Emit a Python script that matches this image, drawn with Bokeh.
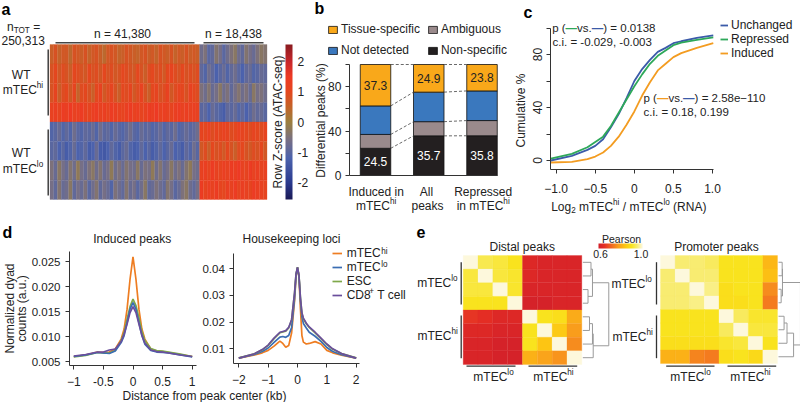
import numpy as np
from bokeh.plotting import figure
from bokeh.embed import file_html
from bokeh.resources import INLINE
from bokeh.models import (ColumnDataSource, Range1d, LinearColorMapper, ColorBar, FixedTicker, Label,
                          Legend, LegendItem, LinearAxis)
from bokeh.transform import transform
from bokeh.core.properties import value

FONT = "Liberation Sans"
DARK = "#222222"
W, H = 800, 402

# ---------- panel a: Row Z-score (tenths), 8 samples x 58 peak columns
z_hi_1 = [6,8,5,7,7,4,8,7,6,8,5,7,8,6,4,7,8,7,5,6,8,7,6,5,7,8,6,7,5,8,7,6,8,5,7,6,8,6,7,6,-7,-5,-10,-9,-4,-6,-10,-7,-5,-3,-7,-9,-4,-6,-8,-5,-3,-4]
z_hi_2 = [8,10,7,9,8,6,10,9,8,7,10,8,9,7,10,8,9,7,8,10,9,8,7,10,8,6,9,10,8,9,7,10,11,9,8,10,8,9,8,9,-9,-11,-7,-9,-12,-10,-8,-11,-9,-7,-10,-12,-9,-8,-11,-10,-8,-9]
z_hi_3 = [8,11,6,9,10,7,11,5,9,10,8,6,10,12,7,9,11,8,6,10,9,11,7,9,12,8,6,10,11,8,9,12,7,9,11,10,8,12,10,9,-5,-7,-4,-8,-6,-3,-7,-5,-9,-6,-4,-7,-5,-8,-3,-6,-5,-7]
z_hi_4 = [12,13,11,14,13,15,12,13,14,12,11,13,14,12,13,11,14,13,12,11,13,14,12,13,11,12,14,13,15,12,13,12,11,13,14,12,13,12,13,12,-10,-9,-12,-8,-10,-11,-13,-9,-10,-8,-11,-9,-12,-10,-7,-9,-8,-10]
z_lo_1 = [-11,-10,-8,-11,-9,-11,-7,-10,-11,-9,-10,-8,-11,-7,-10,-9,-11,-8,-10,-11,-9,-7,-10,-11,-8,-10,-9,-11,-10,-8,-11,-9,-10,-7,-11,-10,-8,-10,-9,-7,11,10,12,9,11,10,12,11,9,10,12,11,10,9,11,10,9,11]
z_lo_2 = [-10,-9,-12,-10,-13,-11,-8,-12,-11,-9,-13,-12,-8,-13,-14,-12,-9,-11,-13,-10,-8,-11,-13,-12,-9,-12,-10,-13,-11,-9,-12,-10,-8,-12,-11,-13,-9,-11,-7,-10,7,9,6,10,8,9,7,10,8,6,9,10,8,7,9,8,10,7]
z_lo_3 = [-5,-8,-3,-6,-8,-4,-7,-2,-6,-8,-5,-3,-7,-4,-8,-6,-2,-7,-5,-8,-4,-6,-7,-3,-8,-5,-6,-2,-7,-4,-8,-6,-3,-7,-5,-8,-4,-2,-6,-7,12,13,11,14,12,11,13,12,14,13,15,12,11,14,12,13,11,12]
z_lo_4 = [-6,-9,-4,-8,-7,-3,-9,-6,-8,-5,-10,-7,-4,-9,-6,-8,-11,-5,-7,-9,-4,-8,-6,-10,-7,-3,-9,-8,-5,-7,-9,-4,-6,-10,-8,-5,-3,-7,-9,-6,14,11,13,12,14,11,10,13,12,14,11,13,12,11,14,13,12,11]
z_rows = [z_hi_1, z_hi_2, z_hi_3, z_hi_4, z_lo_1, z_lo_2, z_lo_3, z_lo_4]

# ---------- panel b
b_nonspecific = [24.5, 35.7, 35.8]
b_ambiguous = [12.5, 12.8, 13.7]
b_notdetected = [25.7, 26.6, 26.7]
b_tissue = [37.3, 24.9, 23.8]

# ---------- panel c
c_x = [-1.07,-.8,-.6,-.5,-.4,-.3,-.2,-.1,0,.1,.2,.3,.4,.5,.6,.8,1.01]
c_unchanged = [0,3.5,8,11,16,25,35,47,60,69,76,82,85,88.5,90,92.5,94.5]
c_repressed = [1.5,5,10,14,18,26,36,46,56,65,73,79,83,87,89,91,93]
c_induced = [-1.5,-1,1,3,6,11,18,27,37,49,59,68,73,78,81,85,88.5]

# ---------- panel d
d1_x = [-1,-.8,-.6,-.5,-.4,-.3,-.2,-.15,-.1,-.05,0,.05,.1,.15,.2,.3,.4,.5,.6,.8,1]
d1_hi = [.0060,.0063,.0069,.0068,.0069,.0075,.0095,.0115,.0155,.0215,.0260,.0215,.0155,.0115,.0095,.0075,.0071,.0070,.0068,.0064,.0060]
d1_esc = [.0059,.0062,.0068,.0067,.0067,.0072,.0092,.0108,.0135,.0160,.0175,.0162,.0138,.0110,.0092,.0076,.0072,.0071,.0069,.0065,.0060]
d1_lo = [.0060,.0063,.0068,.0067,.0066,.0071,.0088,.0102,.0128,.0155,.0168,.0155,.0128,.0102,.0085,.0072,.0069,.0068,.0067,.0063,.0059]
d1_cd8 = [.0061,.0064,.0069,.0069,.0073,.0075,.0090,.0105,.0125,.0148,.0160,.0148,.0125,.0103,.0087,.0073,.0070,.0069,.0067,.0063,.0060]
d2_x = [-2,-1.5,-1.2,-1,-.8,-.6,-.5,-.4,-.3,-.2,-.1,-.05,0,.05,.1,.15,.2,.3,.4,.6,.8,1,1.2,1.5,2]
d2_hi = [.0065,.0076,.0085,.0094,.0110,.0129,.0120,.0106,.0112,.0160,.0280,.0370,.0405,.0370,.0250,.0150,.0125,.0118,.0120,.0127,.0118,.0094,.0085,.0076,.0065]
d2_lo = [.0065,.0078,.0090,.0103,.0124,.0144,.0146,.0143,.0150,.0180,.0290,.0375,.0405,.0370,.0280,.0220,.0195,.0178,.0162,.0147,.0128,.0105,.0090,.0078,.0065]
d2_esc = [.0066,.0080,.0096,.0113,.0138,.0160,.0163,.0166,.0178,.0208,.0310,.0380,.0405,.0375,.0290,.0232,.0212,.0194,.0180,.0160,.0138,.0116,.0098,.0082,.0066]
d2_cd8 = [.0065,.0080,.0097,.0114,.0140,.0162,.0165,.0168,.0180,.0210,.0310,.0380,.0405,.0375,.0290,.0235,.0215,.0196,.0182,.0162,.0140,.0118,.0100,.0082,.0065]

# ---------- panel e (Pearson r)
distal = [[1.0,.93,.92,.90,.63,.62,.62,.62],
          [.92,1.0,.92,.91,.63,.62,.62,.62],
          [.92,.92,1.0,.91,.62,.62,.62,.62],
          [.90,.90,.90,1.0,.61,.61,.62,.62],
          [.66,.65,.63,.63,1.0,.90,.89,.80],
          [.63,.63,.62,.62,.90,1.0,.85,.78],
          [.62,.62,.61,.61,.90,.84,1.0,.76],
          [.62,.62,.61,.61,.81,.79,.77,1.0]]
promoter = [[1.0,.95,.95,.94,.90,.90,.90,.82],
            [.95,1.0,.95,.95,.90,.90,.90,.83],
            [.95,.95,1.0,.96,.89,.90,.90,.76],
            [.95,.95,.96,1.0,.89,.89,.90,.74],
            [.90,.90,.90,.90,1.0,.94,.91,.91],
            [.90,.90,.90,.90,.94,1.0,.92,.92],
            [.89,.89,.89,.89,.91,.92,1.0,.90],
            [.81,.81,.75,.74,.89,.90,.88,1.0]]
# dendrogram merges: (child, child, height) nested
distal_tree = (((0,1,.55),(2,3,.35),.65),(((4,5,.45),6,.65),7,.70),1.75)
promoter_tree = (((0,1,.25),(2,3,.18),.27),(((4,5,.38),6,.58),7,1.03),1.50)

# ---------- page-wide figure: the default ranges are the page's pixels, each panel has its own scale pair
p = figure(width=W, height=H, x_range=Range1d(0, W), y_range=Range1d(H, 0), output_backend="svg", toolbar_location=None,
           x_axis_type=None, y_axis_type=None, min_border=0, min_border_left=0, min_border_right=0, min_border_top=0,
           min_border_bottom=0)
p.outline_line_color = None
p.background_fill_color = None
p.border_fill_color = None

def scale(name, xa, pxa, xb, pxb, ya, pya, yb, pyb):
    """register ranges so that data xa sits at page pixel pxa and so on"""
    kx = (xb-xa)/(pxb-pxa)
    ky = (yb-ya)/(pyb-pya)
    p.extra_x_ranges[name] = Range1d(xa+(0-pxa)*kx, xa+(W-pxa)*kx)
    p.extra_y_ranges[name] = Range1d(ya+(H-pya)*ky, ya+(0-pya)*ky)
    return dict(x_range_name=name, y_range_name=name)

WID = {'m':.833,'T':.611,'E':.667,'C':.722,'i':.222,'l':.222,' ':.278,'(':.333,')':.333,'=':.584,'/':.278,
       'R':.722,'N':.722,'A':.667,'.':.278,',':.278,'-':.333,'c':.5,'s':.5,'v':.5,'f':.278,'t':.278,
       '—':1.0,'−':.584,'+':.584,'k':.5,'O':.778,'W':.944,'r':.333}
def tw(s, size):
    return sum(WID.get(ch,.556) for ch in s)*size

def txt(x, y, s, size=12, color=DARK, align="left", angle=0, style="normal"):
    p.add_layout(Label(x=x, y=y, x_units="canvas", y_units="canvas", text=s, text_font=FONT,
                       text_font_size=f"{size}px", text_color=color, text_align=align, text_baseline="middle",
                       angle=angle, angle_units="deg", text_font_style=style))

def rich(x, y, parts, size=12, align="left"):
    def sz(k): return size*.68 if k != "n" else size
    total = sum(tw(t[0], sz(t[1])) for t in parts)
    cur = x - total/2 if align == "center" else x
    for part in parts:
        t, k = part[0], part[1]
        c = part[2] if len(part) > 2 else DARK
        dy = {"n":0,"sup":-size*.36,"sub":size*.30}[k]
        lead = tw(t[:len(t)-len(t.lstrip())], sz(k))
        txt(cur+lead, y+dy, t.strip(), size=sz(k), color=c, style="bold" if t == "—" else "normal")
        cur += tw(t, sz(k))

def axis(side, names, at, bounds, ticks, overrides=None, size=12, standoff=2, **extra):
    a = LinearAxis(fixed_location=at, bounds=bounds, ticker=FixedTicker(ticks=ticks), **names, **extra)
    a.axis_line_color = "#333333"
    a.major_tick_line_color = "#333333"
    a.minor_tick_line_color = None
    a.major_tick_out = 4
    a.major_tick_in = 0
    a.major_label_text_font = FONT
    a.major_label_text_font_size = f"{size}px"
    a.major_label_text_color = DARK
    a.major_label_standoff = standoff
    if overrides:
        a.major_label_overrides = overrides
    p.add_layout(a, side)
    return a

def interp_palette(stops, n=256):
    xs = [s[0] for s in stops]
    rgb = np.array([[int(s[1][i:i+2],16) for i in (1,3,5)] for s in stops], float)
    g = np.linspace(xs[0], xs[-1], n)
    return ["#%02x%02x%02x" % tuple(int(round(np.interp(v, xs, rgb[:,j]))) for j in range(3)) for v in g]

# ===================== a =====================
A = scale("a", 0, 49.5, 58, 266.5, 0, 44, 8, 199)
z_pal = interp_palette([(-2.55,"#1b1a57"),(-2,"#2a3a8f"),(-1.2,"#4c63ad"),(-.6,"#776f85"),(0,"#9c7f3e"),
                        (.5,"#c3642a"),(1,"#e4471f"),(1.5,"#ee3a24"),(2,"#c8262b"),(2.55,"#8a1c20")])
z_map = LinearColorMapper(palette=z_pal, low=-2.55, high=2.55)
ac, ar, az = [], [], []
for i, r_ in enumerate(z_rows):
    for j, v in enumerate(r_):
        ac.append(j+.5); ar.append(i+.5); az.append(v/10)
p.rect(x="c", y="r", width=1, height=1, source=ColumnDataSource(dict(c=ac, r=ar, z=az)),
       fill_color=transform("z", z_map), line_color=transform("z", z_map), line_width=.3, **A)
p.multi_line(xs=[[55,194],[203,263]], ys=[[42.3,42.3],[42.3,42.3]], line_color="#444444", line_width=1.6)
p.multi_line(xs=[[47.7,47.7],[47.7,47.7]], ys=[[49,115],[129,195]], line_color="#333333", line_width=1.4)
cb = ColorBar(color_mapper=z_map, location=(285,H-199), width=7, height=155, padding=0, margin=0,
              ticker=FixedTicker(ticks=[-2,-1,0,1,2]), major_label_overrides={-2:"-2",-1:"-1",0:"0",1:"1",2:"2"},
              major_label_text_font=FONT, major_label_text_font_size="12px", major_label_text_color=DARK,
              major_tick_line_color=None, label_standoff=5, bar_line_color=None, background_fill_color=None,
              border_line_color=None)
p.add_layout(cb, "center")
txt(277, 121.5, "Row Z-score (ATAC-seq)", angle=90, align="center")
txt(1, 9, "a", size=16, style="bold", color="#000000")
rich(6.5, 26.7, [("n","n"),("TOT","sub"),(" =","n")])
txt(1, 40, "250,313")
txt(122, 33, "n = 41,380", align="center")
txt(233, 33, "n = 18,438", align="center")
txt(20.7, 74, "WT", align="center")
rich(22.5, 89, [("mTEC","n"),("hi","sup")], align="center")
txt(20.7, 152, "WT", align="center")
rich(22.5, 168, [("mTEC","n"),("lo","sup")], align="center")

# ===================== b =====================
B = scale("b", 0, 375, 2, 481.5, 0, 175, 100, 64)
BW = 30.5/53.25
bx = [0,1,2]
sb = ColumnDataSource(dict(x=bx, ns=b_nonspecific, am=b_ambiguous, nd=b_notdetected, ts=b_tissue))
rs = p.vbar_stack(["ns","am","nd","ts"], x="x", width=BW, color=["#231F20","#9A8A8C","#3A78BE","#F9A81A"],
                  line_color="#111111", line_width=.8, source=sb, **B)
cum = np.cumsum([b_nonspecific,b_ambiguous,b_notdetected,b_tissue], axis=0)
xs_, ys_ = [], []
for lev in cum:
    for i in range(2):
        xs_.append([i+BW/2, i+1-BW/2]); ys_.append([float(lev[i]), float(lev[i+1])])
p.multi_line(xs=xs_, ys=ys_, line_color="#444444", line_width=.8, line_dash="3 2", **B)
p.text(x=bx*2, y=[b_nonspecific[i]/2 for i in bx]+[float(cum[2][i])+b_tissue[i]/2 for i in bx],
       text=[f"{v:.1f}" for v in b_nonspecific]+[f"{v:.1f}" for v in b_tissue],
       text_color=["#ffffff"]*3+[DARK]*3, text_align="center", text_baseline="middle",
       text_font=value(FONT), text_font_size="12px", **B)
axis("left", B, -.49, (0,100), [0,20,40,60,80,100], {20:"",60:"",100:""}, standoff=4)
bb = axis("below", B, 0, (-.49,2.29), [])
bb.major_tick_line_color = None
lg = Legend(items=[LegendItem(label="Tissue-specific", renderers=[rs[3]]), LegendItem(label="Not detected", renderers=[rs[2]]),
                   LegendItem(label="Ambiguous", renderers=[rs[1]]), LegendItem(label="Non-specific", renderers=[rs[0]])],
            location=(327,H-57), ncols=2, glyph_width=11, glyph_height=9, label_text_font=FONT, label_text_font_size="12px",
            label_text_color=DARK, label_height=12, spacing=7, padding=0, margin=0, label_standoff=3, border_line_color=None,
            background_fill_alpha=0)
p.add_layout(lg, "center")
txt(314, 8, "b", size=16, style="bold", color="#000000")
txt(320.5, 120, "Differential peaks (%)", angle=90, align="center")
txt(375.7, 191, "Induced in", align="center")
rich(375.7, 205, [("mTEC","n"),("hi","sup")], align="center")
txt(426, 191, "All", align="center")
txt(427, 205, "peaks", align="center")
txt(482.7, 191, "Repressed", align="center")
rich(482.7, 205, [("in mTEC","n"),("hi","sup")], align="center")

# ===================== c =====================
C_U, C_R, C_I = "#3B5BA9", "#2EA85A", "#F39C21"
C = scale("c", -1, 555.7, 1, 712, 0, 160, 80, 54)
l1 = p.line(c_x, c_induced, line_color=C_I, line_width=1.8, **C)
l2 = p.line(c_x, c_unchanged, line_color=C_U, line_width=1.8, **C)
l3 = p.line(c_x, c_repressed, line_color=C_R, line_width=1.8, **C)
axis("below", C, -6.8, (-1.073,1.011), [-1,-.5,0,.5,1], {-1:"−1.0",-.5:"−0.5",0:"0",.5:"0.5",1:"1.0"}, standoff=10)
axis("left", C, -1.073, (-6.8,99.6), [0,20,40,60,80,100], {20:"",60:"",100:""}, standoff=4, major_label_orientation="vertical")
lc = Legend(items=[LegendItem(label="Unchanged", renderers=[l2]), LegendItem(label="Repressed", renderers=[l3]),
                   LegendItem(label="Induced", renderers=[l1])],
            location=(720,H-60), glyph_width=8, glyph_height=12, label_text_font=FONT, label_text_font_size="12px",
            label_text_color=DARK, label_height=12, spacing=-1, padding=0, margin=0, label_standoff=3, border_line_color=None,
            background_fill_alpha=0)
p.add_layout(lc, "center")
txt(523, 12, "c", size=16, style="bold", color="#000000")
txt(520, 110, "Cumulative %", angle=90, align="center")
rich(551.7, 27, [("p (","n"),("—","n",C_R),("vs.","n"),("—","n",C_U),(") = 0.0138","n")], size=11.5)
txt(552, 41.7, "c.i. = -0.029, -0.003", size=11.5)
rich(643, 97.7, [("p (","n"),("—","n",C_I),("vs.","n"),("—","n",C_U),(") = 2.58e−110","n")], size=11.5)
txt(643, 111.7, "c.i. = 0.18, 0.199", size=11.5)
rich(550.7, 206, [("Log","n"),("2","sub"),(" mTEC","n"),("hi","sup"),(" / mTEC","n"),("lo","sup"),(" (RNA)","n")])

# ===================== d =====================
D_H, D_L, D_E, D_C = "#EE7D22", "#3A6DB3", "#7FA84A", "#6A4E9C"
D1 = scale("d1", -1, 73.3, 1, 191.7, .005, 361, .025, 261.3)
for y_, c_ in zip([d1_hi,d1_esc,d1_lo,d1_cd8],[D_H,D_E,D_L,D_C]):
    p.line(d1_x, y_, line_color=c_, line_width=1.7, **D1)
axis("below", D1, .0042, (-1.073,1.067), [-1,-.5,0,.5,1], {-1:"−1",-.5:"-0.5",0:"0",.5:"0.5",1:"1"}, standoff=8)
axis("left", D1, -1.073, (.0042,.0271), [.005,.010,.015,.020,.025], {.005:"0.005",.010:"0.010",.015:"0.015",.020:"0.020",.025:"0.025"}, size=11.5, standoff=5)
txt(2, 232, "d", size=16, style="bold", color="#000000")
txt(131.7, 238, "Induced peaks", align="center")
txt(9.5, 308, "Normalized dyad", angle=90, align="center")
txt(21.7, 308, "counts (a.u.)", angle=90, align="center")

D2 = scale("d2", -2, 238.3, 2, 355.7, .01, 348.3, .04, 268.2)
rd = []
for y_, c_ in zip([d2_hi,d2_lo,d2_esc,d2_cd8],[D_H,D_L,D_E,D_C]):
    rd.append(p.line(d2_x, y_, line_color=c_, line_width=1.7, **D2))
axis("below", D2, .0045, (-2.17,2.11), [-2,-1,0,1,2], {-2:"−2",-1:"−1",0:"0",1:"1",2:"2"}, standoff=8)
axis("left", D2, -2.17, (.0045,.0457), [.01,.02,.03,.04], {.01:"0.01",.02:"0.02",.03:"0.03",.04:"0.04"}, size=11.5, standoff=5)
txt(291, 238, "Housekeeping loci", align="center")
ld = Legend(items=[LegendItem(label=s_, renderers=[r_]) for s_, r_ in zip(["mTEC","mTEC","ESC","CD8"], rd)],
            location=(331.7,H-302), glyph_width=10, glyph_height=12, label_text_font=FONT, label_text_font_size="12px",
            label_text_color=DARK, label_height=12, spacing=-1, padding=0, margin=0, label_standoff=5, border_line_color=None,
            background_fill_alpha=0)
p.add_layout(ld, "center")
mw = tw("mTEC", 12)
txt(346.7+mw, 251, "hi", size=8.2)
txt(346.7+mw, 264, "lo", size=8.2)
txt(346.7+tw("CD8",12), 290, "+", size=8.2)
txt(346.7+tw("CD8",12)+tw("+",8.2)+tw(" ",12), 294, "T cell")
txt(204, 395.7, "Distance from peak center (kb)", align="center")

# ===================== e =====================
E1 = scale("e1", 0, 462.7, 8, 581.3, 0, 255, 8, 364)
E2 = scale("e2", 0, 660, 8, 777, 0, 255, 8, 363)
r_pal = interp_palette([(.6,"#d2202a"),(.65,"#e42d24"),(.72,"#f16a21"),(.78,"#f99d1c"),(.84,"#fdc513"),
                        (.9,"#f9e31c"),(.95,"#f8ec6e"),(1.0,"#fdf8dc")])
r_map = LinearColorMapper(palette=r_pal, low=.6, high=1.0)

def tree_lines(node):
    if not isinstance(node, tuple):
        return node+.5, 0.0, [], []
    a, b, h = node
    pa_, ha, xa, ya = tree_lines(a)
    pb_, hb, xb, yb = tree_lines(b)
    return (pa_+pb_)/2, h, xa+xb+[[ha, h, h, hb]], ya+yb+[[pa_, pa_, pb_, pb_]]

def draw_matrix(mat, tree, rng):
    cx, cy, cz = [], [], []
    for i, rr in enumerate(mat):
        for j, v in enumerate(rr):
            cx.append(j+.5); cy.append(i+.5); cz.append(v)
    p.rect(x="x", y="y", width=1, height=1, source=ColumnDataSource(dict(x=cx, y=cy, z=cz)),
           fill_color=transform("z", r_map), line_color=transform("z", r_map), line_width=.3, **rng)
    _, _, xs, ys = tree_lines(tree)
    p.multi_line(xs=[[8.07+v for v in x] for x in xs], ys=ys, line_color="#9a9a9a", line_width=1, **rng)

draw_matrix(distal, distal_tree, E1)
draw_matrix(promoter, promoter_tree, E2)
p.multi_line(xs=[[466,515],[528,576.7],[460.7,460.7],[460.7,460.7],[665.7,714],[727,775.7],[656,656],[656,656]],
             ys=[[365.7,365.7],[365.7,365.7],[261.7,304],[315,357.7],[365.7,365.7],[365.7,365.7],[261.7,304],[315,357.7]],
             line_color="#333333", line_width=1.3)
cb2 = ColorBar(color_mapper=r_map, orientation="horizontal", location=(598,H-248), width=44, height=5, padding=0, margin=0,
               ticker=FixedTicker(ticks=[]), major_tick_line_color=None, bar_line_color=None, background_fill_color=None,
               border_line_color=None)
p.add_layout(cb2, "center")
txt(621, 238, "Pearson", size=10.5, align="center")
txt(600, 253.5, "0.6", size=10.5, align="center")
txt(640.5, 253.5, "1.0", size=10.5, align="center")
txt(416, 231.7, "e", size=16, style="bold", color="#000000")
txt(521.7, 246.7, "Distal peaks", align="center")
txt(716, 246.7, "Promoter peaks", align="center")
for cx_, sup_ in [(493,"lo"),(553,"hi"),(690,"lo"),(750,"hi")]:
    rich(cx_, 376, [("mTEC","n"),(sup_,"sup")], align="center")
rich(416.7, 282, [("mTEC","n"),("lo","sup")])
rich(417, 335, [("mTEC","n"),("hi","sup")])
rich(611, 283, [("mTEC","n"),("lo","sup")])
rich(612, 336.7, [("mTEC","n"),("hi","sup")])

open("out.html", "w").write(file_html(p, INLINE))
